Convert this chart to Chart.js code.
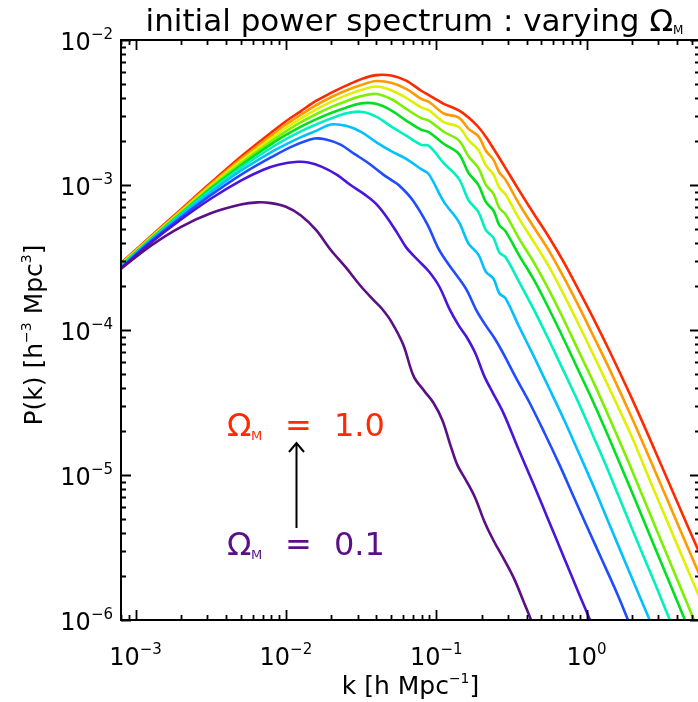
<!DOCTYPE html>
<html><head><meta charset="utf-8">
<script src="https://cdn.jsdelivr.net/npm/chart.js@4/dist/chart.umd.min.js"></script>
<style>html,body{margin:0;padding:0;overflow:hidden;background:#fff}#wrap{width:700px;height:702px}</style>
</head><body><div id="wrap"><canvas id="c" width="700" height="702"></canvas></div>
<script>
// log10 k [h/Mpc] grid shared by the curves Omega_M = 0.4 ... 1.0
const logK_common = [-3.1,-2.9,-2.7,-2.5,-2.3,-2.1,-2.0,-1.9,-1.8,-1.7,-1.6,-1.5,-1.4,-1.3,-1.2,-1.1,-1.05,-0.95,-0.85,-0.785,-0.72,-0.67,-0.62,-0.58,-0.54,-0.45,-0.35,-0.25,-0.15,-0.05,0.05,0.15,0.3,0.45,0.6,0.76];
// log10 P(k)
const logP_10 = [-3.54,-3.355,-3.17,-2.985,-2.805,-2.64,-2.56,-2.49,-2.42,-2.365,-2.315,-2.27,-2.242,-2.245,-2.28,-2.35,-2.38,-2.44,-2.485,-2.535,-2.60,-2.668,-2.748,-2.814,-2.882,-3.035,-3.20,-3.36,-3.535,-3.73,-3.93,-4.14,-4.47,-4.82,-5.18,-5.56];
const logP_09 = [-3.545,-3.36,-3.177,-2.995,-2.82,-2.66,-2.583,-2.515,-2.45,-2.395,-2.348,-2.31,-2.283,-2.295,-2.337,-2.406,-2.426,-2.507,-2.535,-2.613,-2.663,-2.764,-2.825,-2.914,-2.963,-3.129,-3.293,-3.454,-3.641,-3.841,-4.052,-4.265,-4.604,-4.96,-5.324,-5.71];
const logP_08 = [-3.55,-3.365,-3.185,-3.005,-2.835,-2.68,-2.605,-2.54,-2.48,-2.427,-2.382,-2.345,-2.321,-2.346,-2.399,-2.465,-2.484,-2.567,-2.60,-2.691,-2.758,-2.864,-2.926,-3.019,-3.064,-3.23,-3.394,-3.563,-3.76,-3.967,-4.181,-4.40,-4.735,-5.109,-5.475,-5.866];
const logP_07 = [-3.555,-3.37,-3.192,-3.015,-2.85,-2.70,-2.63,-2.567,-2.512,-2.463,-2.422,-2.387,-2.372,-2.407,-2.475,-2.539,-2.556,-2.633,-2.692,-2.803,-2.882,-2.999,-3.059,-3.16,-3.201,-3.368,-3.535,-3.725,-3.933,-4.152,-4.37,-4.603,-4.963,-5.34,-5.713,-6.114];
const logP_06 = [-3.56,-3.375,-3.198,-3.025,-2.865,-2.72,-2.655,-2.597,-2.547,-2.503,-2.467,-2.437,-2.44,-2.485,-2.556,-2.619,-2.635,-2.716,-2.785,-2.917,-2.999,-3.117,-3.176,-3.278,-3.318,-3.483,-3.655,-3.855,-4.067,-4.288,-4.51,-4.747,-5.114,-5.49,-5.863,-6.267];
const logP_05 = [-3.565,-3.38,-3.205,-3.037,-2.882,-2.745,-2.684,-2.63,-2.583,-2.542,-2.506,-2.495,-2.528,-2.596,-2.66,-2.723,-2.73,-2.849,-2.956,-3.105,-3.185,-3.311,-3.363,-3.466,-3.497,-3.666,-3.861,-4.071,-4.289,-4.51,-4.746,-4.986,-5.366,-5.737,-6.117,-6.52];
const logP_04 = [-3.57,-3.385,-3.212,-3.05,-2.902,-2.775,-2.72,-2.67,-2.627,-2.583,-2.592,-2.633,-2.704,-2.766,-2.82,-2.891,-2.925,-3.115,-3.254,-3.404,-3.48,-3.598,-3.645,-3.748,-3.78,-3.975,-4.184,-4.40,-4.619,-4.852,-5.088,-5.336,-5.707,-6.075,-6.45,-6.85];
// the three lowest-Omega curves, each on its own log10 k grid
const logK_03 = [-3.1,-2.9,-2.7,-2.5,-2.3,-2.1,-1.95,-1.81,-1.74,-1.64,-1.545,-1.45,-1.35,-1.3,-1.25,-1.16,-1.06,-0.99,-0.93,-0.87,-0.80,-0.73,-0.67,-0.61,-0.55,-0.475,-0.38,-0.28,-0.18,-0.086,0.0,0.109,0.2,0.264,0.35];
const logP_03 = [-3.575,-3.39,-3.225,-3.07,-2.93,-2.81,-2.73,-2.68,-2.685,-2.72,-2.785,-2.85,-2.93,-2.965,-3.00,-3.10,-3.27,-3.43,-3.53,-3.615,-3.72,-3.87,-3.97,-4.06,-4.17,-4.32,-4.50,-4.71,-4.93,-5.15,-5.35,-5.60,-5.81,-5.97,-6.2];
const logK_02 = [-3.1,-2.9,-2.7,-2.5,-2.3,-2.15,-2.05,-1.92,-1.85,-1.76,-1.66,-1.57,-1.47,-1.40,-1.33,-1.26,-1.2,-1.12,-1.05,-0.98,-0.91,-0.85,-0.80,-0.74,-0.68,-0.62,-0.55,-0.45,-0.35,-0.25,-0.15,-0.05,0.023,0.1];
const logP_02 = [-3.578,-3.40,-3.24,-3.095,-2.97,-2.895,-2.86,-2.84,-2.845,-2.875,-2.93,-3.00,-3.07,-3.13,-3.22,-3.33,-3.43,-3.52,-3.595,-3.70,-3.86,-3.97,-4.045,-4.16,-4.32,-4.44,-4.58,-4.83,-5.07,-5.32,-5.57,-5.82,-6.0,-6.2];
const logK_01 = [-3.1,-2.9,-2.7,-2.5,-2.3,-2.19,-2.1,-2.0,-1.9,-1.8,-1.7,-1.6,-1.5,-1.42,-1.36,-1.3,-1.22,-1.15,-1.08,-1.02,-0.96,-0.907,-0.86,-0.80,-0.74,-0.68,-0.62,-0.55,-0.48,-0.42,-0.369,-0.3,-0.2];
const logP_01 = [-3.58,-3.42,-3.29,-3.195,-3.135,-3.12,-3.125,-3.15,-3.21,-3.31,-3.45,-3.57,-3.70,-3.79,-3.855,-3.94,-4.10,-4.32,-4.42,-4.50,-4.62,-4.79,-4.93,-5.04,-5.16,-5.32,-5.45,-5.58,-5.72,-5.87,-6.0,-6.17,-6.42];

const seriesNames = ['0.1','0.2','0.3','0.4','0.5','0.6','0.7','0.8','0.9','1.0'];
const seriesColors = ['#5a0f86','#4a14dc','#1f4cff','#00c0ff','#00f0c0','#00e020','#7cf000','#e0f000','#ff9a00','#ff2a00'];
const xTickValues = [1e-3,1e-2,1e-1,1];
const xTickExps = ['-3','-2','-1','0'];
const yTickValues = [1e-2,1e-3,1e-4,1e-5,1e-6];
const yTickExps = ['-2','-3','-4','-5','-6'];

const seriesK = [logK_01,logK_02,logK_03,logK_common,logK_common,logK_common,logK_common,logK_common,logK_common,logK_common];
const seriesP = [logP_01,logP_02,logP_03,logP_04,logP_05,logP_06,logP_07,logP_08,logP_09,logP_10];
const datasets = seriesP.map((arr,i)=>({
  label:'Ωm = '+seriesNames[i],
  data: arr.map((lp,j)=>({x:Math.pow(10,seriesK[i][j]), y:Math.pow(10,lp)})),
  borderColor: seriesColors[i], borderWidth:2.6, pointRadius:0, fill:false,
  tension:0.35, borderJoinStyle:'round'
}));

const FONT = '"DejaVu Sans", sans-serif';
function rich(ctx, parts, x, y, align){
  let w=0;
  parts.forEach(p=>{ctx.font=p.s+'px '+FONT; w+=ctx.measureText(p.t).width + (p.gap||0);});
  let cx = align==='center'? x-w/2 : (align==='right'? x-w : x);
  parts.forEach(p=>{ctx.font=p.s+'px '+FONT; ctx.fillText(p.t, cx, y+(p.dy||0)); cx+=ctx.measureText(p.t).width+(p.gap||0);});
  return w;
}
function place(ctx, t, s, x, y){ctx.font=s+'px '+FONT; ctx.fillText(t,x,y);}

const axesPlugin = {
  id:'idlAxes',
  afterDatasetsDraw(chart){
    const ctx=chart.ctx, a=chart.chartArea, xs=chart.scales.x, ys=chart.scales.y;
    ctx.save();
    ctx.strokeStyle='#000'; ctx.fillStyle='#000'; ctx.lineWidth=2;
    ctx.beginPath(); ctx.rect(a.left, a.top, a.right-a.left, a.bottom-a.top); ctx.stroke();
    ctx.lineWidth=1.8;
    for(let e=-4;e<=1;e++){
      for(let m=1;m<=9;m++){
        const v=m*Math.pow(10,e);
        if(v<xs.min||v>xs.max) continue;
        const px=Math.round(xs.getPixelForValue(v))+0.5;
        const L = m===1?10:5;
        ctx.beginPath(); ctx.moveTo(px,a.bottom); ctx.lineTo(px,a.bottom-L);
        ctx.moveTo(px,a.top); ctx.lineTo(px,a.top+L); ctx.stroke();
      }
    }
    for(let e=-7;e<=-1;e++){
      for(let m=1;m<=9;m++){
        const v=m*Math.pow(10,e);
        if(v<ys.min*0.999||v>ys.max*1.001) continue;
        const py=Math.round(ys.getPixelForValue(v))+0.5;
        const L = m===1?10:5;
        ctx.beginPath(); ctx.moveTo(a.left,py); ctx.lineTo(a.left+L,py);
        ctx.moveTo(a.right,py); ctx.lineTo(a.right-L,py); ctx.stroke();
      }
    }
    ctx.textBaseline='alphabetic';
    xTickValues.forEach((v,i)=>{
      const px=xs.getPixelForValue(v);
      rich(ctx,[{t:'10',s:24},{t:xTickExps[i].replace('-','−'),s:15,dy:-11}],px,665,'center');
    });
    yTickValues.forEach((v,i)=>{
      const py=ys.getPixelForValue(v);
      rich(ctx,[{t:'10',s:24},{t:yTickExps[i].replace('-','−'),s:15,dy:-11}],a.left-8,py+10,'right');
    });
    rich(ctx,[{t:'k [h Mpc',s:25},{t:'−1',s:14,dy:-11},{t:']',s:25}],(a.left+a.right)/2,694,'center');
    ctx.save(); ctx.translate(42,335); ctx.rotate(-Math.PI/2);
    rich(ctx,[{t:'P(k) [h',s:25},{t:'−3',s:14,dy:-11},{t:' Mpc',s:25},{t:'3',s:14,dy:-11},{t:']',s:25}],0,0,'center');
    ctx.restore();
    ctx.font='100px '+FONT;
    const wBase = ctx.measureText('initial power spectrum : varying Ω').width;
    const ts = Math.min(31, 100*540/wBase);
    rich(ctx,[{t:'initial power spectrum : varying Ω',s:ts},{t:'M',s:12,dy:3}],(a.left+a.right)/2+4,31,'center');
    ctx.fillStyle=seriesColors[9];
    place(ctx,'Ω',32,227,436); place(ctx,'M',13,251,440); place(ctx,'=',32,285,436); place(ctx,'1.0',32,334,436);
    ctx.fillStyle=seriesColors[0];
    place(ctx,'Ω',32,227,555); place(ctx,'M',13,251,559); place(ctx,'=',32,285,555); place(ctx,'0.1',32,334,555);
    ctx.strokeStyle='#000'; ctx.lineWidth=2;
    ctx.beginPath(); ctx.moveTo(296.5,528); ctx.lineTo(296.5,443);
    ctx.moveTo(289,452); ctx.lineTo(296.5,443); ctx.lineTo(304,452); ctx.stroke();
    ctx.restore();
  }
};

new Chart(document.getElementById('c'),{
  type:'line',
  data:{datasets},
  options:{
    responsive:false, animation:false,
    layout:{padding:{left:121,right:0,top:40,bottom:82}},
    plugins:{legend:{display:false},tooltip:{enabled:false},title:{display:false}},
    scales:{
      x:{type:'logarithmic',display:false,min:8.0e-4,max:5.68},
      y:{type:'logarithmic',display:false,min:1e-6,max:1e-2}
    }
  },
  plugins:[axesPlugin]
});
</script></body></html>
